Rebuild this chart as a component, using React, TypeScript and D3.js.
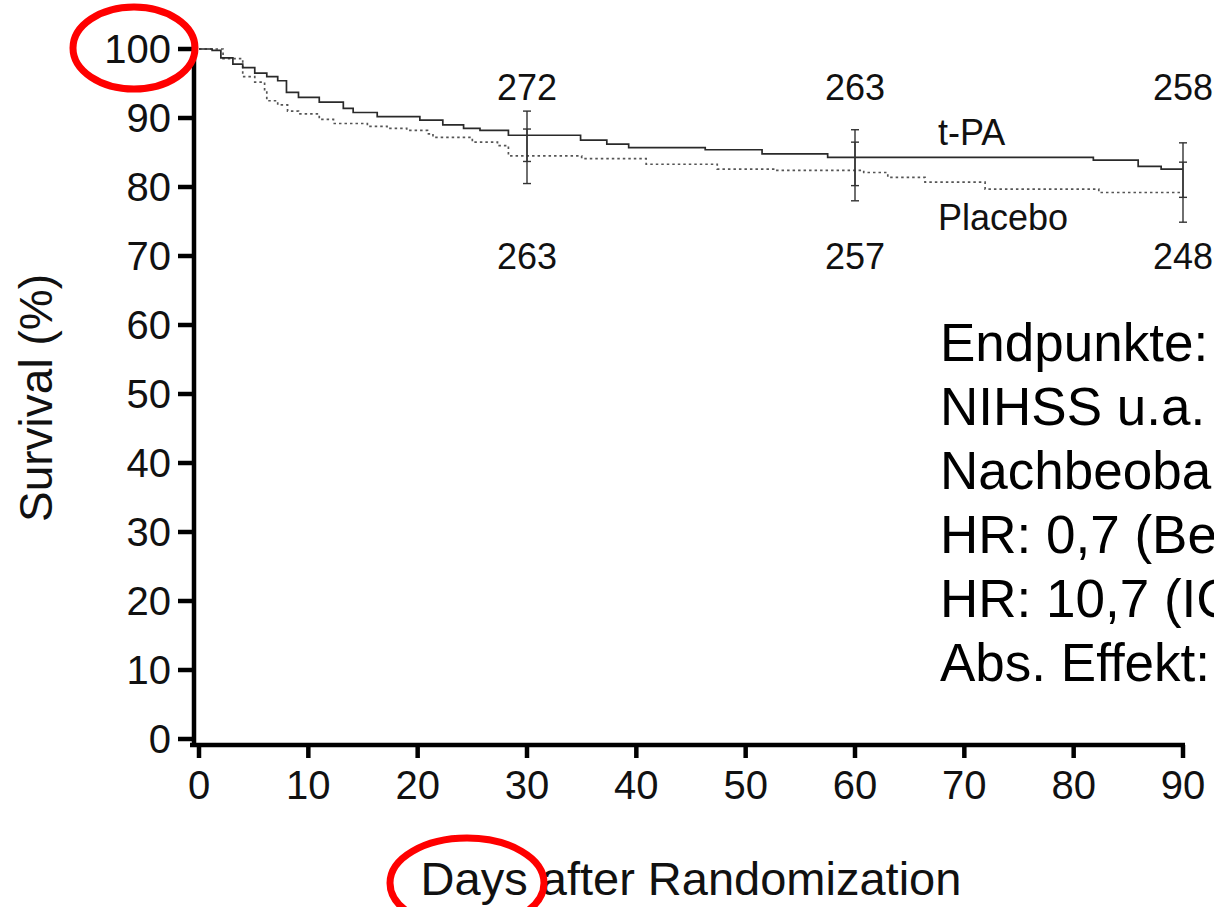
import React, { useEffect } from 'react'
import * as d3 from 'd3'

// Kaplan-Meier steps
const tpaDays = [0, 1.2, 2.0, 3.1, 4.0, 5.1, 6.2, 7.2, 8.0, 9.1, 11.0, 13.2, 14.1, 16.3, 20.2, 22.3, 24.2, 25.7, 28.3, 34.9, 37.3, 39.3, 46.3, 51.5, 57.5, 81.8, 85.9, 88.0, 90]
const tpaSurv = [100, 99.8, 98.7, 97.8, 97.3, 96.5, 96.0, 95.4, 93.7, 93.0, 92.3, 91.4, 90.8, 90.2, 89.7, 89.0, 88.5, 88.2, 87.5, 86.8, 86.2, 85.7, 85.4, 84.8, 84.3, 83.9, 83.0, 82.6, 82.6]

const placeboDays = [0, 2.2, 4.0, 5.1, 6.0, 6.2, 7.2, 8.1, 9.1, 11.0, 12.3, 15.4, 17.2, 19.0, 20.9, 21.4, 25.0, 27.3, 28.3, 35.0, 40.9, 47.4, 52.7, 60.8, 63.0, 66.4, 71.9, 82.3, 90]
const placeboSurv = [100, 98.6, 96.0, 95.2, 93.9, 92.5, 91.9, 91.0, 90.6, 89.8, 89.2, 88.8, 88.5, 88.2, 87.7, 87.2, 86.5, 86.0, 84.5, 84.1, 83.3, 82.6, 82.4, 82.1, 81.4, 80.7, 79.7, 79.2, 79.2]

const ciDays = [30, 60, 90]
const tpaLo = [83.7, 80.2, 78.5]
const tpaHi = [91.0, 88.3, 86.4]
const placeboLo = [80.5, 78.0, 74.9]
const placeboHi = [88.4, 86.5, 83.6]
const tpaAtRisk = [272, 263, 258]
const placeboAtRisk = [263, 257, 248]

const xTicks = [0, 10, 20, 30, 40, 50, 60, 70, 80, 90]
const yTicks = [0, 10, 20, 30, 40, 50, 60, 70, 80, 90, 100]

const infoLines = ['Endpunkte:', 'NIHSS u.a.', 'Nachbeoba', 'HR: 0,7 (Be', 'HR: 10,7 (IC', 'Abs. Effekt:']

const font = '"Liberation Sans", Arial, Helvetica, sans-serif'

export default function App() {
    const width = 1214
    const height = 907

    useEffect(() => {
        document.body.style.margin = '0'
        document.body.style.overflow = 'hidden'
    }, [])

    const x = d3.scaleLinear().domain([0, 90]).range([199, 1183])
    const y = d3.scaleLinear().domain([0, 100]).range([739, 49])

    const step = d3.line<[number, number]>()
        .x(d => x(d[0]))
        .y(d => y(d[1]))
        .curve(d3.curveStepAfter)

    const tpaPath = step(tpaDays.map((d, i) => [d, tpaSurv[i]]))
    const placeboPath = step(placeboDays.map((d, i) => [d, placeboSurv[i]]))

    const axisX = 194
    const axisY = 745

    const ciBar = (day: number, lo: number, hi: number, key: string) => (
        <g key={key} stroke="#333" strokeWidth={1.4}>
            <line x1={x(day)} x2={x(day)} y1={y(hi)} y2={y(lo)} />
            <line x1={x(day) - 4} x2={x(day) + 4} y1={y(hi)} y2={y(hi)} />
            <line x1={x(day) - 4} x2={x(day) + 4} y1={y(lo)} y2={y(lo)} />
        </g>
    )

    return (
        <svg width={width} height={height} style={{ position: 'absolute', left: 0, top: 0, background: '#fff' }} fontFamily={font}>
            <rect x={0} y={0} width={width} height={height} fill="#fff" />

            {/* curves */}
            <path d={placeboPath || ''} fill="none" stroke="#555" strokeWidth={1.7} strokeDasharray="2.5,3" />
            <path d={tpaPath || ''} fill="none" stroke="#2a2a2a" strokeWidth={1.7} />

            {ciDays.map((d, i) => ciBar(d, tpaLo[i], tpaHi[i], 't' + i))}
            {ciDays.map((d, i) => ciBar(d, placeboLo[i], placeboHi[i], 'p' + i))}

            {/* numbers at risk */}
            {ciDays.map((d, i) => (
                <text key={'ta' + i} x={x(d)} y={100} fontSize={36} textAnchor="middle" fill="#111">{tpaAtRisk[i]}</text>
            ))}
            {ciDays.map((d, i) => (
                <text key={'pa' + i} x={x(d)} y={269} fontSize={36} textAnchor="middle" fill="#111">{placeboAtRisk[i]}</text>
            ))}

            <text x={938} y={145} fontSize={36} fill="#111">t-PA</text>
            <text x={938} y={230} fontSize={36} fill="#111">Placebo</text>

            {/* axes */}
            <line x1={axisX} x2={axisX} y1={40} y2={axisY + 2} stroke="#000" strokeWidth={4.5} />
            <line x1={axisX - 4} x2={x(90) + 2} y1={axisY} y2={axisY} stroke="#000" strokeWidth={4.5} />
            {yTicks.map(t => (
                <g key={'y' + t}>
                    <line x1={178} x2={axisX} y1={y(t)} y2={y(t)} stroke="#000" strokeWidth={4.5} />
                    <text x={171} y={y(t) + 14} fontSize={40} textAnchor="end" fill="#111">{t}</text>
                </g>
            ))}
            {xTicks.map(t => (
                <g key={'x' + t}>
                    <line x1={x(t)} x2={x(t)} y1={axisY} y2={758} stroke="#000" strokeWidth={4.5} />
                    <text x={x(t)} y={799} fontSize={40} textAnchor="middle" fill="#111">{t}</text>
                </g>
            ))}

            <text transform="translate(52,398) rotate(-90)" fontSize={46} textAnchor="middle" fill="#111">Survival (%)</text>
            <text x={691} y={895} fontSize={47} textAnchor="middle" fill="#111">Days after Randomization</text>

            {/* info block */}
            {infoLines.map((s, i) => (
                <text key={'i' + i} x={940} y={361 + i * 64} fontSize={53} fill="#000">{s}</text>
            ))}

            {/* red annotation rings */}
            <ellipse cx={134} cy={48} rx={61} ry={41} fill="none" stroke="#f00" strokeWidth={7} />
            <ellipse cx={467} cy={883} rx={77} ry={45} fill="none" stroke="#f00" strokeWidth={7} />
        </svg>
    )
}
